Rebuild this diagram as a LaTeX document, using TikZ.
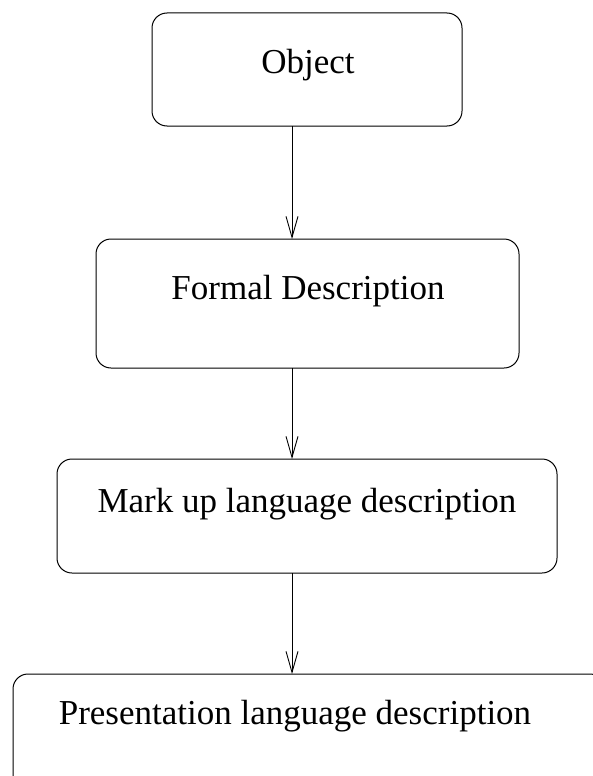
\documentclass[tikz,border=0pt]{standalone}
\usepackage{fontspec}
\setmainfont{Liberation Serif}
\usetikzlibrary{arrows.meta}
\begin{document}
\begin{tikzpicture}[x=1pt,y=1pt,
  box/.style={draw, line width=1pt, rounded corners=15pt, inner sep=0pt, outer sep=0pt},
  lbl/.style={anchor=base, inner sep=0pt, font=\fontsize{35}{40}\selectfont},
  arr/.style={line width=1pt, -{Straight Barb[length=21pt,width=12pt,line width=0.9pt]}}]
\useasboundingbox (0,0) rectangle (592,-776);
\node[box, minimum width=310, minimum height=113] (o) at (307,-69.5) {};
\node[box, minimum width=423, minimum height=129] (f) at (307.5,-303.5) {};
\node[box, minimum width=500, minimum height=114] (m) at (307,-516) {};
\node[box, minimum width=592, minimum height=116] (p) at (309,-732) {};
\node[lbl] (ot) at (308,-74) {Object};
\node[lbl] (ft) at (308,-299) {Formal Description};
\node[lbl] (mt) at (307,-512) {Mark up language description};
\node[lbl] (pt) at (295,-724) {Presentation language description};
\coordinate (ax) at (292,0);
\draw[arr] (o.south -| ax) -- (f.north -| ax);
\draw[arr] (f.south -| ax) -- (m.north -| ax);
\draw[arr] (m.south -| ax) -- (p.north -| ax);
\end{tikzpicture}
\end{document}
